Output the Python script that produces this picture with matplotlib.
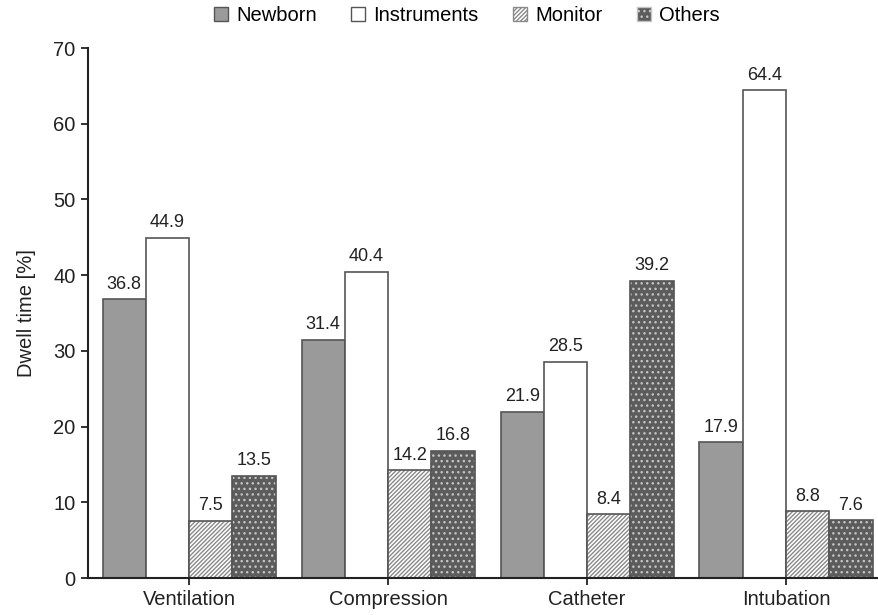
import matplotlib.pyplot as plt
import numpy as np
from matplotlib.patches import Patch

plt.rcParams['font.family'] = ['Liberation Sans', 'DejaVu Sans']

categorias = ['Ventilation', 'Compression', 'Catheter', 'Intubation']
series = ['Newborn', 'Instruments', 'Monitor', 'Others']
newborn = [36.8, 31.4, 21.9, 17.9]
instruments = [44.9, 40.4, 28.5, 64.4]
monitor = [7.5, 14.2, 8.4, 8.8]
others = [13.5, 16.8, 39.2, 7.6]

valores = [newborn, instruments, monitor, others]
caras = ['#9a9a9a', 'white', 'white', '#5c5c5c']
tramas = [None, None, '////////', '...']
color_trama = [None, None, '#8a8a8a', '#c4c4c4']
borde = '#555555'

fig = plt.figure(figsize=(8.79, 6.15), dpi=100)
ax = fig.add_axes([88 / 879, 37 / 615, 789 / 879, 530 / 615])

x = np.arange(len(categorias))
ancho = 0.2175

for i, vals in enumerate(valores):
    pos = x + (i - 1.5) * ancho
    if tramas[i]:
        ax.bar(pos, vals, ancho, color=caras[i], hatch=tramas[i],
               edgecolor=color_trama[i], linewidth=0)
        ax.bar(pos, vals, ancho, fill=False, edgecolor=borde, linewidth=1.2)
    else:
        ax.bar(pos, vals, ancho, color=caras[i], edgecolor=borde, linewidth=1.2)
    for p, v in zip(pos, vals):
        ax.text(p, v + 0.9, f'{v}', ha='center', va='bottom', fontsize=13, color='#222222')

ax.set_xlim(-0.508, 3.457)
ax.set_ylim(0, 70)
ax.set_yticks(range(0, 71, 10))
ax.set_xticks(x)
ax.set_xticklabels(categorias)
ax.tick_params(axis='both', labelsize=14.5, length=5, width=1.3, colors='#222222', direction='out')
ax.tick_params(axis='y', pad=4)
ax.set_ylabel('Dwell time [%]', fontsize=14.5, color='#222222', labelpad=12)

for lado in ['top', 'right']:
    ax.spines[lado].set_visible(False)
for lado in ['left', 'bottom']:
    ax.spines[lado].set_linewidth(1.5)
    ax.spines[lado].set_color('#222222')

manijas = []
for i, s in enumerate(series):
    manijas.append(Patch(facecolor=caras[i], hatch=tramas[i],
                         edgecolor=borde if tramas[i] is None else color_trama[i],
                         label=s, linewidth=1))
ley = fig.legend(handles=manijas, loc='upper center', bbox_to_anchor=(0.531, 1.02),
                 ncol=4, frameon=False, fontsize=14.5, handlelength=0.7, handleheight=0.7,
                 columnspacing=1.7, handletextpad=0.4)

plt.savefig('out.png', dpi=100)
plt.close()
